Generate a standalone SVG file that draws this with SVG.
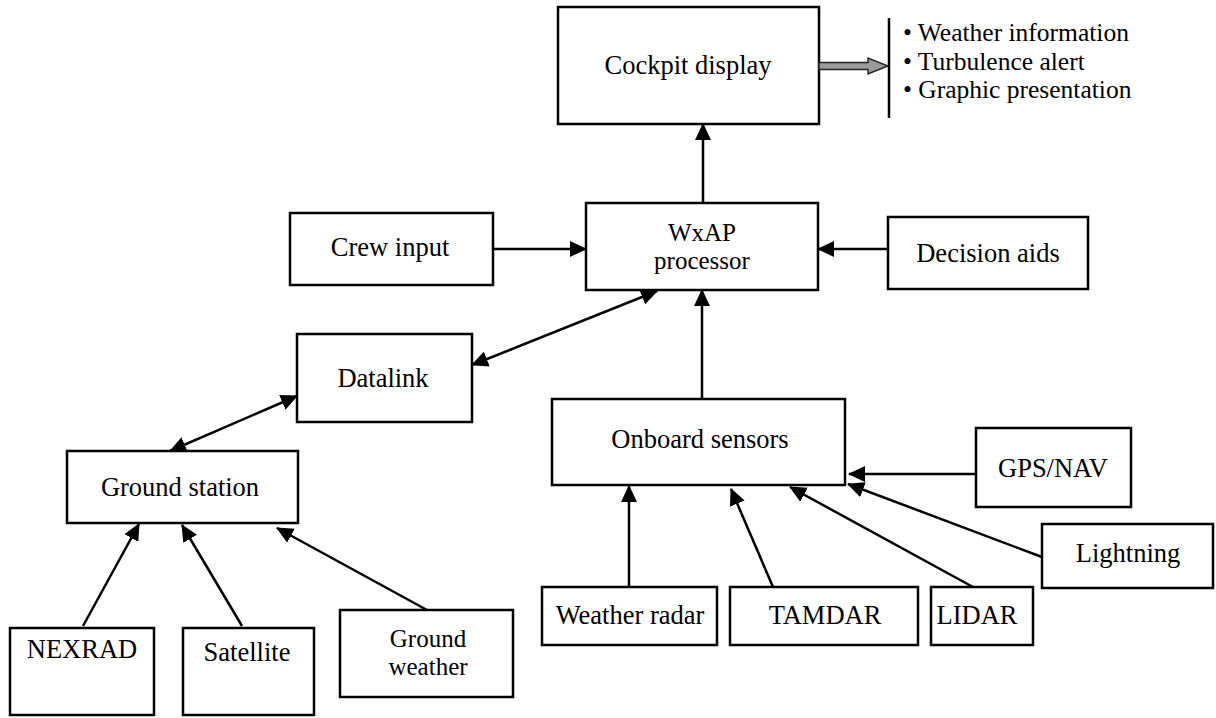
<svg xmlns="http://www.w3.org/2000/svg" width="1216" height="718" viewBox="0 0 1216 718">
<defs>
<marker id="ah" viewBox="0 0 17 16" refX="16" refY="8" markerWidth="17" markerHeight="16" markerUnits="userSpaceOnUse" orient="auto-start-reverse">
<path d="M0,0 L17,8 L0,16 z" fill="#000"/>
</marker>
<style>
.box{fill:#fff;stroke:#000;stroke-width:2.5}
.lbl{font-family:"Liberation Serif","Times New Roman","DejaVu Serif",serif;font-size:26.5px;fill:#000;text-anchor:middle}
.ml{font-size:25px}
.lst{font-family:"Liberation Serif","Times New Roman","DejaVu Serif",serif;font-size:25.5px;fill:#000}
.con{fill:none;stroke:#000;stroke-width:2.5}
.one{marker-end:url(#ah)}
.two{marker-start:url(#ah);marker-end:url(#ah)}
</style>
</defs>
<rect width="1216" height="718" fill="#fff"/>

<g id="cockpit">
<rect class="box" x="558" y="7" width="261" height="117"/>
<text class="lbl" x="688" y="74">Cockpit display</text>
</g>
<g id="outputs">
<line x1="889" y1="18" x2="889" y2="118" stroke="#000" stroke-width="2.5"/>
<text class="lst" x="903" y="41">• Weather information</text>
<text class="lst" x="903" y="69.5">• Turbulence alert</text>
<text class="lst" x="903" y="98">• Graphic presentation</text>
</g>
<g id="wxap">
<rect class="box" x="586" y="203" width="232" height="87"/>
<text class="lbl ml" x="702" y="241">WxAP</text>
<text class="lbl ml" x="702" y="269">processor</text>
</g>
<g id="crew">
<rect class="box" x="290" y="213" width="203" height="72"/>
<text class="lbl" x="390" y="256">Crew input</text>
</g>
<g id="decision">
<rect class="box" x="888" y="217" width="200" height="72"/>
<text class="lbl" x="988" y="262">Decision aids</text>
</g>
<g id="datalink">
<rect class="box" x="297" y="334" width="175" height="88"/>
<text class="lbl" x="383" y="387">Datalink</text>
</g>
<g id="ground-station">
<rect class="box" x="67" y="451" width="231" height="72"/>
<text class="lbl" x="180" y="496">Ground station</text>
</g>
<g id="onboard">
<rect class="box" x="552" y="399" width="293" height="86"/>
<text class="lbl" x="700" y="448">Onboard sensors</text>
</g>
<g id="gpsnav">
<rect class="box" x="976" y="428" width="155" height="79"/>
<text class="lbl" x="1053" y="477">GPS/NAV</text>
</g>
<g id="lightning">
<rect class="box" x="1042" y="524" width="171" height="64"/>
<text class="lbl" x="1128" y="562">Lightning</text>
</g>
<g id="weather-radar">
<rect class="box" x="542" y="587" width="175" height="58"/>
<text class="lbl" x="630" y="624">Weather radar</text>
</g>
<g id="tamdar">
<rect class="box" x="730" y="587" width="188" height="58"/>
<text class="lbl" x="825" y="624">TAMDAR</text>
</g>
<g id="lidar">
<rect class="box" x="931" y="587" width="102" height="58"/>
<text class="lbl" x="977" y="624">LIDAR</text>
</g>
<g id="nexrad">
<rect class="box" x="10" y="628" width="144" height="87"/>
<text class="lbl" x="82" y="658">NEXRAD</text>
</g>
<g id="satellite">
<rect class="box" x="183" y="628" width="131" height="87"/>
<text class="lbl" x="247" y="661">Satellite</text>
</g>
<g id="ground-weather">
<rect class="box" x="340" y="610" width="173" height="87"/>
<text class="lbl ml" x="428" y="647">Ground</text>
<text class="lbl ml" x="428" y="675">weather</text>
</g>

<g id="connectors">
<polygon points="819,62.5 868,62.5 868,58 888,66 868,74 868,69.5 819,69.5" fill="#9a9a9a" stroke="#222" stroke-width="1.4"/>
<line class="con one" x1="703" y1="203" x2="703" y2="124"/>
<line class="con one" x1="493" y1="249" x2="586" y2="249"/>
<line class="con one" x1="888" y1="249" x2="818" y2="249"/>
<line class="con two" x1="472" y1="365" x2="657" y2="291"/>
<line class="con two" x1="170" y1="451" x2="297" y2="396"/>
<line class="con one" x1="702" y1="399" x2="702" y2="290"/>
<line class="con one" x1="83" y1="626" x2="139" y2="524"/>
<line class="con one" x1="242" y1="626" x2="182" y2="525"/>
<line class="con one" x1="427" y1="610" x2="277" y2="528"/>
<line class="con one" x1="629" y1="587" x2="629" y2="486"/>
<line class="con one" x1="773" y1="587" x2="731" y2="489"/>
<line class="con one" x1="973" y1="587" x2="790" y2="487"/>
<line class="con one" x1="1042" y1="557" x2="848" y2="484"/>
<line class="con one" x1="976" y1="474" x2="849" y2="474"/>
</g>
</svg>
